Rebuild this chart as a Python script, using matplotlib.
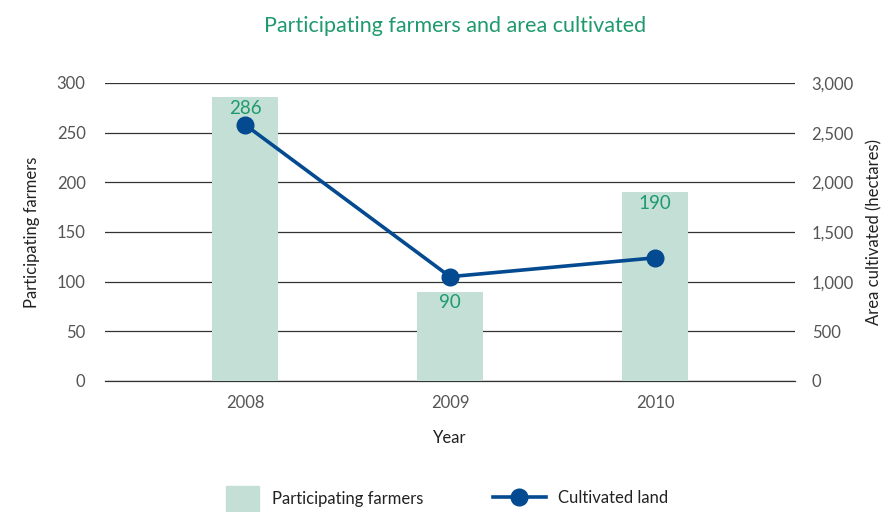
import matplotlib.pyplot as plt
from matplotlib.lines import Line2D
from matplotlib.patches import Patch

plt.rcParams['font.family'] = ['Lato', 'DejaVu Sans']

years = ["2008", "2009", "2010"]
farmers = [286, 90, 190]
area = [2580, 1050, 1240]

bar_color = "#c4e0d6"
line_color = "#034a90"
green = "#1e9a6e"
grey = "#555555"

fig = plt.figure(figsize=(8.87, 5.12), dpi=100)
ax = fig.add_axes([0.1184, 0.2559, 0.7779, 0.582])
ax2 = ax.twinx()

x = list(range(len(years)))
ax.bar(x, farmers, width=0.32, color=bar_color, zorder=2)
for xi, v in zip(x, farmers):
    ax.annotate(str(v), (xi, v), xytext=(0, -8), textcoords="offset points",
                ha="center", va="center", color=green, fontsize=13.5)

ax2.plot(x, area, color=line_color, lw=2.6, marker="o", markersize=12, zorder=3)

ax.set_ylim(0, 300)
ax2.set_ylim(0, 3000)
ax.set_xlim(-0.683, 2.683)
ax.set_yticks(range(0, 301, 50))
ax2.set_yticks(range(0, 3001, 500))
ax2.set_yticklabels([f"{v:,}" for v in range(0, 3001, 500)])
ax.set_xticks(x)
ax.set_xticklabels(years)

ax.grid(axis="y", color="#333333", lw=0.9, zorder=1)
ax.set_axisbelow(True)
ax.axhline(0, color="#333333", lw=0.9, clip_on=False, zorder=1.5)
for a in (ax, ax2):
    for s in a.spines.values():
        s.set_visible(False)
    a.tick_params(length=0, labelsize=12, labelcolor=grey)
ax.tick_params(axis="y", pad=14)
ax2.tick_params(axis="y", pad=12)
ax.tick_params(axis="x", pad=10)

ax.set_xlabel("Year", fontsize=12, color="#222222", labelpad=14)
ax.set_ylabel("Participating farmers", fontsize=12, color="#222222", labelpad=12)
ax2.set_ylabel("Area cultivated (hectares)", fontsize=12, color="#222222", labelpad=9)

fig.text(0.513, 0.95, "Participating farmers and area cultivated", ha="center",
         va="center", color=green, fontsize=15.5)

leg1 = fig.legend([Patch(color=bar_color)], ["Participating farmers"], loc="center left",
                  bbox_to_anchor=(0.247, 0.027), frameon=False, fontsize=12,
                  handlelength=2.0, handleheight=1.9, handletextpad=0.8,
                  labelcolor="#222222", borderaxespad=0)
leg2 = fig.legend([Line2D([0], [0], color=line_color, lw=2.6, marker="o", markersize=12)],
                  ["Cultivated land"], loc="center left",
                  bbox_to_anchor=(0.548, 0.027), frameon=False, fontsize=12,
                  handlelength=3.2, handletextpad=0.7, labelcolor="#222222",
                  borderaxespad=0)

fig.savefig("out.png", dpi=100)
